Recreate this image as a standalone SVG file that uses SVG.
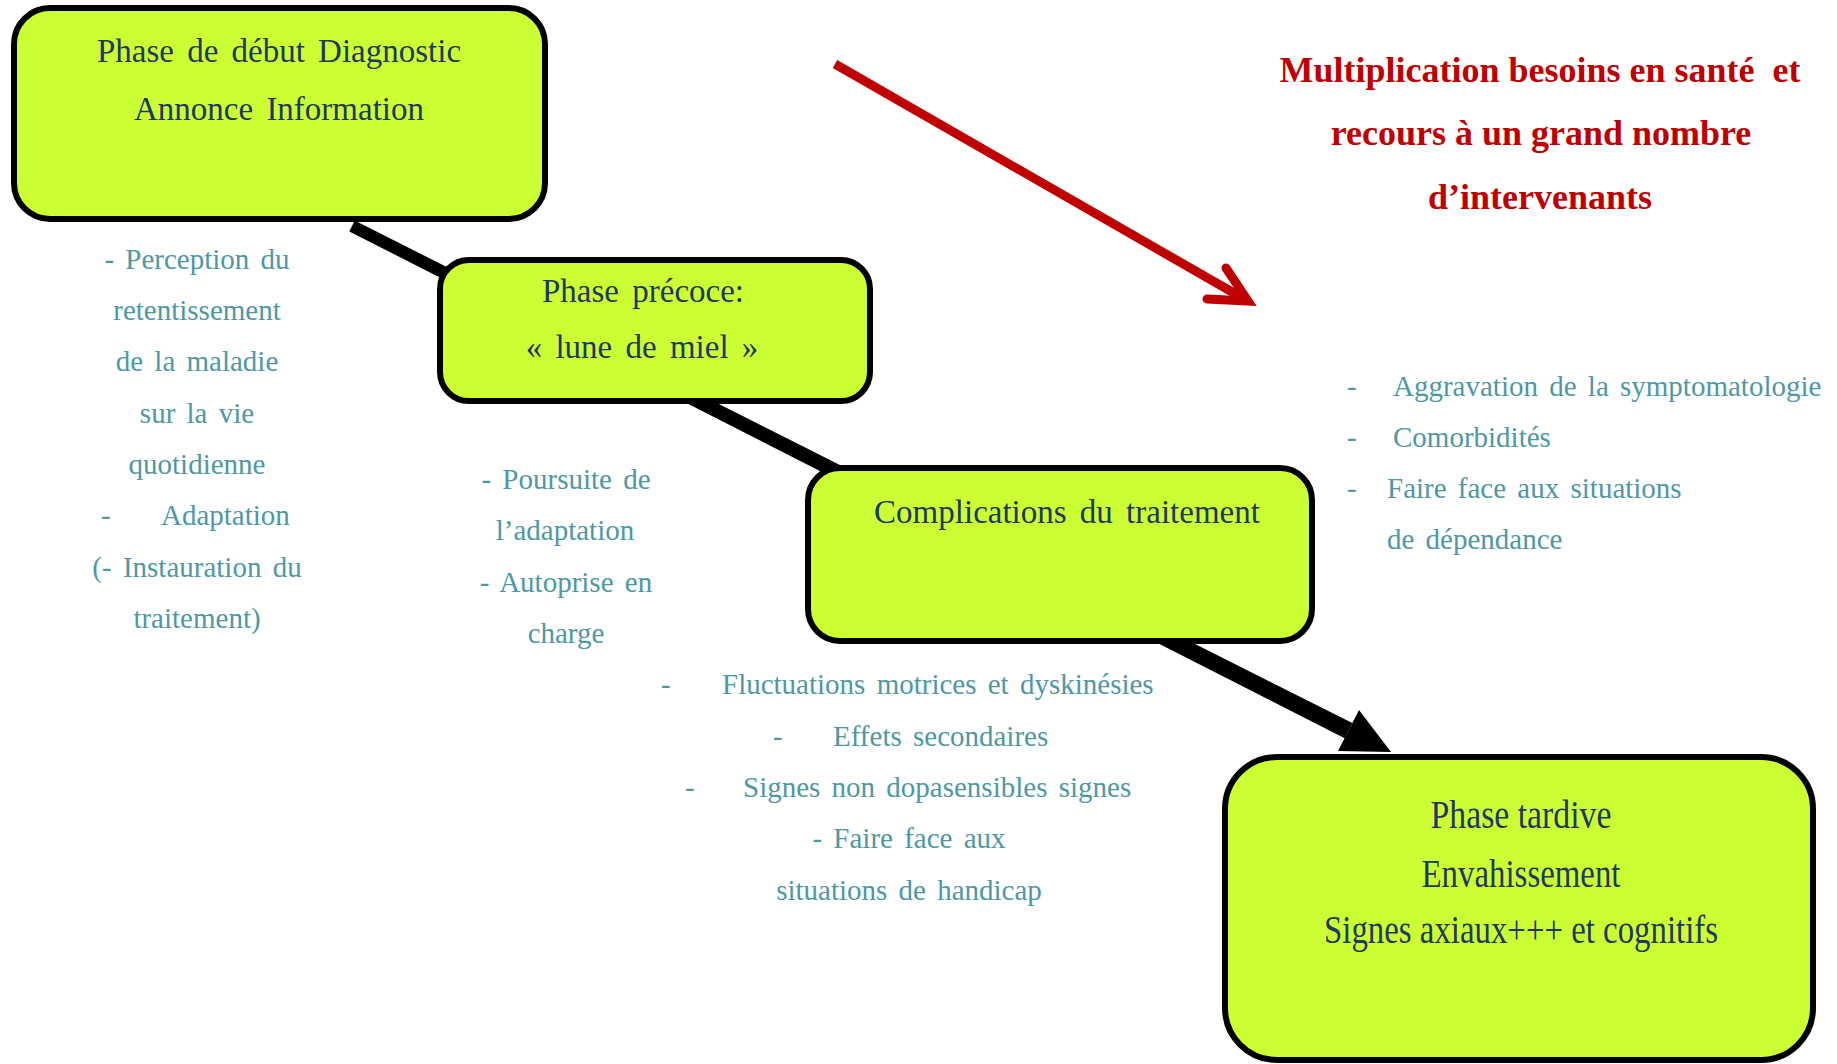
<svg xmlns="http://www.w3.org/2000/svg" width="1837" height="1064" viewBox="0 0 1837 1064">
  <style>
    .box { fill: #CCFF33; stroke: #000; stroke-width: 6; }
    .bt { font-family: "Liberation Serif", "Times New Roman", serif; font-size: 33px; word-spacing: 5px; fill: #1F3864; text-anchor: middle; }
    .bt4 { font-family: "Liberation Serif", "Times New Roman", serif; font-size: 39px; fill: #1F3864; text-anchor: middle; }
    .t { font-family: "Liberation Serif", "Times New Roman", serif; font-size: 29px; word-spacing: 4px; fill: #4E98A4; }
    .tc { text-anchor: middle; }
    .red { font-family: "Liberation Serif", "Times New Roman", serif; font-size: 36px; font-weight: bold; fill: #C00000; text-anchor: middle; }
  </style>

  <g id="connectors">
    <g id="main-arrow" fill="#000">
      <polygon points="354.7,220.6 1352.3,723.1 1344.7,738.3 349.3,231.4"/>
      <polygon points="1359,710 1391,752 1338,751"/>
    </g>
    <g id="red-arrow" fill="none" stroke="#C00000" stroke-width="9">
      <line x1="835" y1="64" x2="1246" y2="300" stroke-linecap="butt"/>
      <polyline points="1226,268 1248,301 1207,299" stroke-linecap="round" stroke-linejoin="miter"/>
    </g>
  </g>

  <g id="node-debut">
    <rect class="box" x="14" y="8" width="531" height="211" rx="36"/>
    <text class="bt" x="279" y="62">Phase de début Diagnostic</text>
    <text class="bt" x="279" y="120">Annonce Information</text>
  </g>

  <g id="node-precoce">
    <rect class="box" x="440" y="260" width="430" height="141" rx="29"/>
    <text class="bt" x="643" y="302">Phase précoce:</text>
    <text class="bt" x="642" y="358">« lune de miel »</text>
  </g>

  <g id="node-complications">
    <rect class="box" x="808" y="468" width="504" height="173" rx="32"/>
    <text class="bt" x="1067" y="523">Complications du traitement</text>
  </g>

  <g id="node-tardive">
    <rect class="box" x="1225" y="757" width="588" height="303" rx="52"/>
    <text class="bt4" x="1521" y="828" textLength="181" lengthAdjust="spacingAndGlyphs">Phase tardive</text>
    <text class="bt4" x="1521" y="887" textLength="199" lengthAdjust="spacingAndGlyphs">Envahissement</text>
    <text class="bt4" x="1521" y="943" textLength="394" lengthAdjust="spacingAndGlyphs">Signes axiaux+++ et cognitifs</text>
  </g>

  <g id="label-besoins">
    <text class="red" x="1540" y="82">Multiplication besoins en santé&#160; et</text>
    <text class="red" x="1541" y="145">recours à un grand nombre</text>
    <text class="red" x="1540" y="209">d’intervenants</text>
  </g>

  <g id="notes-debut">
    <text class="t tc" x="197" y="269">- Perception du</text>
    <text class="t tc" x="197" y="320">retentissement</text>
    <text class="t tc" x="197" y="371">de la maladie</text>
    <text class="t tc" x="197" y="423">sur la vie</text>
    <text class="t tc" x="197" y="474">quotidienne</text>
    <text class="t" y="525"><tspan x="101">-</tspan><tspan x="161">Adaptation</tspan></text>
    <text class="t tc" x="197" y="577">(- Instauration du</text>
    <text class="t tc" x="197" y="628">traitement)</text>
  </g>

  <g id="notes-precoce">
    <text class="t tc" x="566" y="489">- Poursuite de</text>
    <text class="t tc" x="565" y="540">l’adaptation</text>
    <text class="t tc" x="566" y="592">- Autoprise en</text>
    <text class="t tc" x="566" y="643">charge</text>
  </g>

  <g id="notes-complications">
    <text class="t" y="694"><tspan x="661">-</tspan><tspan x="722">Fluctuations motrices et dyskinésies</tspan></text>
    <text class="t" y="746"><tspan x="773">-</tspan><tspan x="833">Effets secondaires</tspan></text>
    <text class="t" y="797"><tspan x="685">-</tspan><tspan x="743">Signes non dopasensibles signes</tspan></text>
    <text class="t tc" x="909" y="848">- Faire face aux</text>
    <text class="t tc" x="909" y="900">situations de handicap</text>
  </g>

  <g id="notes-tardive">
    <text class="t" y="396"><tspan x="1347">-</tspan><tspan x="1393">Aggravation de la symptomatologie</tspan></text>
    <text class="t" y="447"><tspan x="1347">-</tspan><tspan x="1393">Comorbidités</tspan></text>
    <text class="t" y="498"><tspan x="1347">-</tspan><tspan x="1387">Faire face aux situations</tspan></text>
    <text class="t" y="549" x="1387">de dépendance</text>
  </g>
</svg>
